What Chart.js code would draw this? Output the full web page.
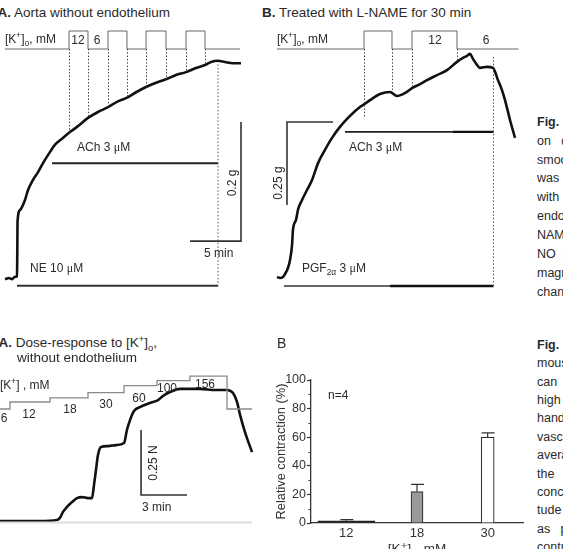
<!DOCTYPE html>
<html>
<head>
<meta charset="utf-8">
<script src="https://cdn.jsdelivr.net/npm/chart.js@4.4.1/dist/chart.umd.min.js"></script>
<style>
html, body { margin: 0; padding: 0; width: 563px; height: 549px; overflow: hidden; background: #fff; }
body { position: relative; font-family: "Liberation Sans", Arial, "DejaVu Sans", sans-serif; color: #2a2a2a; }
canvas { position: absolute; }
.t { position: absolute; white-space: nowrap; line-height: 1; font-size: 12px; }
.h { font-size: 13.5px; }
.c { transform: translateX(-50%); }
.r { transform: translate(-50%, -50%) rotate(-90deg); }
.mu { font-family: "Liberation Serif", serif; }
.col { position: absolute; left: 537px; font-size: 12.5px; line-height: 1; white-space: nowrap; }
sup, sub { font-size: 70%; line-height: 0; }
</style>
</head>
<body>

<canvas id="topA" width="255" height="280" style="left:0;top:20px"></canvas>
<canvas id="topB" width="260" height="280" style="left:260px;top:20px"></canvas>
<canvas id="doseA" width="260" height="170" style="left:0;top:365px"></canvas>
<canvas id="barB" width="263" height="192" style="left:262px;top:365px"></canvas>

<!-- top left -->
<div class="t h" style="left:-2.5px;top:6.25px"><b>A.</b> Aorta without endothelium</div>
<div class="t" style="left:5px;top:33px">[K<sup>+</sup>]<sub>o</sub>, mM</div>
<div class="t c" style="left:78px;top:33.5px">12</div>
<div class="t c" style="left:97px;top:33.5px">6</div>
<div class="t" style="left:77px;top:140.5px">ACh 3 <span class="mu">μ</span>M</div>
<div class="t r" style="left:232px;top:183px">0.2 g</div>
<div class="t" style="left:204px;top:247px">5 min</div>
<div class="t" style="left:30px;top:261.5px">NE 10 <span class="mu">μ</span>M</div>

<!-- top right -->
<div class="t h" style="left:262px;top:6.25px"><b>B.</b> Treated with L-NAME for 30 min</div>
<div class="t" style="left:277px;top:33px">[K<sup>+</sup>]<sub>o</sub>, mM</div>
<div class="t c" style="left:435px;top:33.5px">12</div>
<div class="t c" style="left:486px;top:33.5px">6</div>
<div class="t" style="left:349px;top:141px">ACh 3 <span class="mu">μ</span>M</div>
<div class="t r" style="left:278px;top:183px">0.25 g</div>
<div class="t" style="left:302px;top:262px">PGF<sub>2α</sub> 3 <span class="mu">μ</span>M</div>

<!-- bottom left -->
<div class="t h" style="left:-1.5px;top:335.75px"><b>A.</b> Dose-response to [K<sup>+</sup>]<sub>o</sub>,</div>
<div class="t h" style="left:17px;top:351.25px">without endothelium</div>
<div class="t" style="left:0;top:379px">[K<sup>+</sup>] , mM</div>
<div class="t c" style="left:4px;top:412px">6</div>
<div class="t c" style="left:29px;top:408px">12</div>
<div class="t c" style="left:70px;top:403px">18</div>
<div class="t c" style="left:106px;top:398px">30</div>
<div class="t c" style="left:139px;top:392px">60</div>
<div class="t c" style="left:167px;top:382px">100</div>
<div class="t c" style="left:205px;top:378px">156</div>
<div class="t r" style="left:153px;top:463px">0.25 N</div>
<div class="t" style="left:142px;top:501px">3 min</div>

<!-- bottom right -->
<div class="t" style="left:277px;top:336px;font-size:14px">B</div>
<div class="t" style="left:328px;top:389px">n=4</div>

<!-- caption column, cut by the page edge -->
<div class="col" style="top:115.75px"><b>Fig.</b></div>
<div class="col" style="top:134.65px">on&nbsp;&nbsp;&nbsp;d</div>
<div class="col" style="top:153.55px">smooth</div>
<div class="col" style="top:172.45px">was</div>
<div class="col" style="top:191.35px">with</div>
<div class="col" style="top:210.25px">endothelium</div>
<div class="col" style="top:229.15px">NAME</div>
<div class="col" style="top:248.05px">NO&nbsp;&nbsp;s</div>
<div class="col" style="top:266.95px">magnitude</div>
<div class="col" style="top:285.85px">change</div>

<div class="col" style="top:338.75px"><b>Fig.</b></div>
<div class="col" style="top:357.15px">mouse</div>
<div class="col" style="top:375.55px">can</div>
<div class="col" style="top:393.95px">high</div>
<div class="col" style="top:412.35px">hand</div>
<div class="col" style="top:430.75px">vascular</div>
<div class="col" style="top:449.15px">average</div>
<div class="col" style="top:467.55px">the</div>
<div class="col" style="top:485.95px">concentration</div>
<div class="col" style="top:504.35px">tude</div>
<div class="col" style="top:522.75px">as&nbsp;&nbsp;&nbsp;p</div>
<div class="col" style="top:541.15px">contr</div>

<script>
// ---- A: aorta without endothelium (time in min, tension in g) ----
var aTime = [-1.18, -0.78, -0.49, -0.20, 0, 0.03, 0.05, 0.29, 0.78, 1.08, 1.57, 2.06, 2.55, 3.24, 3.73, 4.41, 5.10, 5.88,
    6.96, 7.94, 8.92, 9.80, 10.78, 11.76, 12.65, 13.63, 14.61, 15.59, 16.57, 17.55, 18.43, 19.02, 19.71, 20.39, 21.18, 21.96];
var aForce = [-0.002, 0, -0.002, 0.002, 0.003, 0.047, 0.094, 0.114, 0.131, 0.148, 0.165, 0.178, 0.193, 0.212, 0.224, 0.234, 0.244, 0.254,
    0.269, 0.279, 0.287, 0.296, 0.303, 0.313, 0.321, 0.328, 0.334, 0.341, 0.346, 0.353, 0.358, 0.363, 0.365, 0.363, 0.361, 0.361];
var aKTime = [-1.18, 5.10, 6.96, 8.92, 10.78, 12.65, 14.61, 16.57, 18.43, 21.86];
var aKConc = [6, 12, 6, 12, 6, 12, 6, 12, 6, 6];
var aEdgeTime = [5.10, 6.96, 8.92, 10.78, 12.65, 14.61, 16.57, 18.43];
var aEdgeForce = [0.244, 0.269, 0.287, 0.303, 0.321, 0.334, 0.346, 0.358];
var aNE = [0, 19.71];      // on, washout
var aACh = [3.43, 19.71];

// ---- B: treated with L-NAME ----
var bTime = [-0.78, -0.49, -0.20, 0, 0.29, 0.49, 0.69, 0.78, 1.08, 1.27, 1.67, 2.16, 2.65, 3.24, 3.92, 4.61, 5.39, 6.08, 6.67,
    7.35, 7.94, 8.63, 9.31, 10.29, 10.98, 11.57, 12.06, 12.45, 13.24, 13.92, 14.90, 15.88, 16.86, 17.45, 17.84, 18.14, 18.43,
    18.82, 19.12, 19.80, 20.39, 20.88, 21.27, 21.57, 22.06, 22.55];
var bForce = [0, -0.003, 0, 0.009, 0.027, 0.051, 0.096, 0.142, 0.172, 0.202, 0.232, 0.262, 0.292, 0.343, 0.383, 0.419, 0.452, 0.476, 0.494,
    0.512, 0.524, 0.539, 0.551, 0.557, 0.545, 0.551, 0.560, 0.569, 0.581, 0.593, 0.608, 0.623, 0.648, 0.660, 0.666, 0.672, 0.657,
    0.639, 0.630, 0.633, 0.630, 0.593, 0.563, 0.533, 0.473, 0.419];
var bKTime = [-0.78, 7.75, 10.49, 12.45, 16.86, 22.9];
var bKConc = [6, 12, 6, 12, 6, 6];
var bEdgeTime = [7.75, 10.49, 12.45, 16.86];
var bEdgeForce = [0.482, 0.557, 0.569, 0.648];
var bPGF = [-0.1, 20.44];
var bACh = [5.88, 20.44];

// ---- dose-response to K+ (time in min, force in N) ----
var cTime = [0, 1.30, 2.61, 3.72, 3.91, 4.11, 4.37, 4.70, 5.02, 5.35, 5.74, 6.00, 6.13, 6.26, 6.39, 6.59, 7.05, 7.57,
    8.09, 8.28, 8.48, 8.74, 9.13, 9.78, 10.31, 10.63, 11.09, 11.74, 13.05, 14.03, 14.81, 15.20, 15.46, 15.66, 15.98, 16.44];
var cForce = [0, 0, 0, 0.004, 0.012, 0.035, 0.054, 0.073, 0.088, 0.092, 0.088, 0.088, 0.138, 0.196, 0.254, 0.285, 0.288, 0.292,
    0.300, 0.350, 0.388, 0.423, 0.438, 0.454, 0.465, 0.481, 0.496, 0.508, 0.508, 0.504, 0.504, 0.492, 0.458, 0.408, 0.342, 0.265];
var cKTime = [0, 0.65, 3.26, 5.74, 8.09, 10.24, 12.39, 14.81, 16.44];
var cKConc = [6, 12, 18, 30, 60, 100, 156, 6, 6];

// ---- relative contraction ----
var barConc = ['12', '18', '30'];
var barMean = [1.5, 22, 60];
var barSem = [0.8, 5, 3];

Chart.defaults.font.family = '"Liberation Sans", Arial, "DejaVu Sans", sans-serif';
Chart.defaults.color = '#333';

function pts(xs, ys) {
    return xs.map(function (x, i) { return { x: x, y: ys[i] }; });
}

function line(data, opts) {
    return Object.assign({ data: data, borderColor: '#111', borderWidth: 2, pointRadius: 0, fill: false, yAxisID: 'y' }, opts || {});
}

// dotted verticals from the K+ protocol trace down to the tension trace
var dropLines = {
    id: 'dropLines',
    afterDatasetsDraw: function (chart, args, o) {
        if (!o || !o.times) return;
        var ctx = chart.ctx, x = chart.scales.x, y = chart.scales.y, k = chart.scales.yK;
        ctx.save();
        ctx.strokeStyle = '#444';
        ctx.lineWidth = 1;
        ctx.setLineDash([1.5, 1.8]);
        ctx.beginPath();
        o.times.forEach(function (t, i) {
            var px = Math.round(x.getPixelForValue(t)) + 0.5;
            ctx.moveTo(px, k.getPixelForValue(o.base));
            ctx.lineTo(px, y.getPixelForValue(o.ends[i]));
        });
        ctx.stroke();
        ctx.restore();
    }
};

function traceChart(id, xr, yr, kScale, datasets, drops) {
    return new Chart(document.getElementById(id), {
        type: 'line',
        data: { datasets: datasets },
        options: {
            responsive: false,
            animation: false,
            events: [],
            layout: { padding: 0 },
            plugins: { legend: { display: false }, tooltip: { enabled: false }, dropLines: drops || {} },
            scales: {
                x: { type: 'linear', display: false, min: xr[0], max: xr[1] },
                y: { type: 'linear', display: false, min: yr[0], max: yr[1] },
                yK: Object.assign({ axis: 'y', display: false }, kScale)
            }
        },
        plugins: [dropLines]
    });
}

var dotted = { borderDash: [1.5, 2], borderWidth: 1, borderColor: '#555' };
var scaleBar = { borderWidth: 1.6, borderColor: '#333' };
var trace = { borderWidth: 2.6, borderColor: '#111', cubicInterpolationMode: 'monotone', borderJoinStyle: 'round' };

traceChart('topA', [-1.667, 23.333], [-0.037, 0.4336], { type: 'linear', min: -77.667, max: 15.667 }, [
    line(pts(aKTime, aKConc), { yAxisID: 'yK', stepped: true, borderColor: '#666', borderWidth: 1 }),
    line(pts(aTime, aForce), trace),
    line([{ x: aNE[1], y: 0.365 }, { x: aNE[1], y: -0.013 }], dotted),
    line([{ x: aACh[0], y: 0.193 }, { x: aACh[1], y: 0.193 }], { borderColor: '#222', borderWidth: 2 }),
    line([{ x: aNE[0], y: -0.013 }, { x: aNE[1], y: -0.013 }], { borderColor: '#333', borderWidth: 2 }),
    line([{ x: 16.96, y: 0.062 }, { x: 21.96, y: 0.062 }, { x: 21.96, y: 0.262 }], scaleBar)   // 5 min, 0.2 g
], { times: aEdgeTime, ends: aEdgeForce, base: 6 });

traceChart('topB', [-2.451, 23.039], [-0.0693, 0.7741], { type: 'linear', min: -77.667, max: 15.667 }, [
    line(pts(bKTime, bKConc), { yAxisID: 'yK', stepped: true, borderColor: '#666', borderWidth: 1 }),
    line(pts(bTime, bForce), trace),
    line([{ x: bPGF[1], y: 0.663 }, { x: bPGF[1], y: -0.027 }], dotted),
    line([{ x: bACh[0], y: 0.437 }, { x: 16.4, y: 0.437 }], { borderColor: '#222', borderWidth: 1.6 }),
    line([{ x: 16.4, y: 0.437 }, { x: bACh[1], y: 0.437 }], { borderColor: '#111', borderWidth: 2.4 }),
    line([{ x: bPGF[0], y: -0.027 }, { x: 10.3, y: -0.027 }], { borderColor: '#333', borderWidth: 1.6 }),
    line([{ x: 10.3, y: -0.027 }, { x: bPGF[1], y: -0.027 }], { borderColor: '#111', borderWidth: 2.4 }),
    line([{ x: 4.71, y: 0.467 }, { x: 0.196, y: 0.467 }, { x: 0.196, y: 0.217 }], scaleBar)   // 0.25 g
], { times: bEdgeTime, ends: bEdgeForce, base: 6 });

traceChart('doseA', [0, 16.96], [-0.0538, 0.6], { type: 'logarithmic', min: 2.35e-5, max: 464 }, [
    line([{ x: cTime[0], y: -0.006 }, { x: cTime[cTime.length - 1], y: -0.006 }], { borderColor: '#ddd', borderWidth: 2 }),
    line(pts(cKTime, cKConc), { yAxisID: 'yK', stepped: true, borderColor: '#8a8a8a', borderWidth: 1.3 }),
    line(pts(cTime, cForce), trace),
    line([{ x: 9.20, y: 0.35 }, { x: 9.20, y: 0.10 }, { x: 12.20, y: 0.10 }], scaleBar)   // 0.25 N, 3 min
]);

// error bars and minor ticks for the bar chart
var barExtras = {
    id: 'barExtras',
    afterDatasetsDraw: function (chart) {
        var ctx = chart.ctx, x = chart.scales.x, y = chart.scales.y;
        ctx.save();
        ctx.strokeStyle = '#333';
        ctx.lineWidth = 1.2;
        ctx.beginPath();
        barMean.forEach(function (m, i) {
            var px = x.getPixelForValue(i);
            var top = y.getPixelForValue(m + barSem[i]);
            ctx.moveTo(px, y.getPixelForValue(m));
            ctx.lineTo(px, top);
            ctx.moveTo(px - 6, top);
            ctx.lineTo(px + 7, top);
        });
        for (var v = 10; v < 100; v += 20) {
            var py = Math.round(y.getPixelForValue(v)) + 0.5;
            ctx.moveTo(chart.chartArea.left - 2.5, py);
            ctx.lineTo(chart.chartArea.left, py);
        }
        ctx.stroke();
        ctx.restore();
    }
};

new Chart(document.getElementById('barB'), {
    type: 'bar',
    data: {
        labels: barConc,
        datasets: [
            { data: [barMean[0], null, null], backgroundColor: '#222', borderColor: '#222', borderWidth: 1, barThickness: 57, grouped: false },
            { data: [null, barMean[1], null], backgroundColor: '#9a9a9a', borderColor: '#333', borderWidth: 1.2, barThickness: 12, grouped: false },
            { data: [null, null, barMean[2]], backgroundColor: '#fff', borderColor: '#333', borderWidth: 1.2, barThickness: 13, grouped: false }
        ]
    },
    options: {
        responsive: false,
        animation: false,
        events: [],
        layout: { padding: { top: 15, right: 2, left: 0, bottom: 0 } },
        plugins: { legend: { display: false }, tooltip: { enabled: false } },
        scales: {
            x: {
                grid: { display: false, drawTicks: false },
                border: { color: '#333', width: 1.3 },
                ticks: { font: { size: 13 }, color: '#333', padding: 3 },
                title: { display: true, text: '[K\u207A]\u2092, mM', font: { size: 13.5 }, color: '#333', padding: { top: 0, bottom: 0 } },
                afterFit: function (s) { s.height = 34; }
            },
            y: {
                min: 0,
                max: 100,
                ticks: { stepSize: 20, font: { size: 12.5 }, color: '#333', padding: 1 },
                grid: { drawOnChartArea: false, tickLength: 4, tickColor: '#333', tickWidth: 1.2 },
                border: { color: '#333', width: 1.3 },
                title: { display: true, text: 'Relative contraction (%)', font: { size: 12.8 }, color: '#333', padding: { top: 12, bottom: 0 } },
                afterFit: function (s) { s.width = 49; }
            }
        }
    },
    plugins: [barExtras]
});
</script>
</body>
</html>
